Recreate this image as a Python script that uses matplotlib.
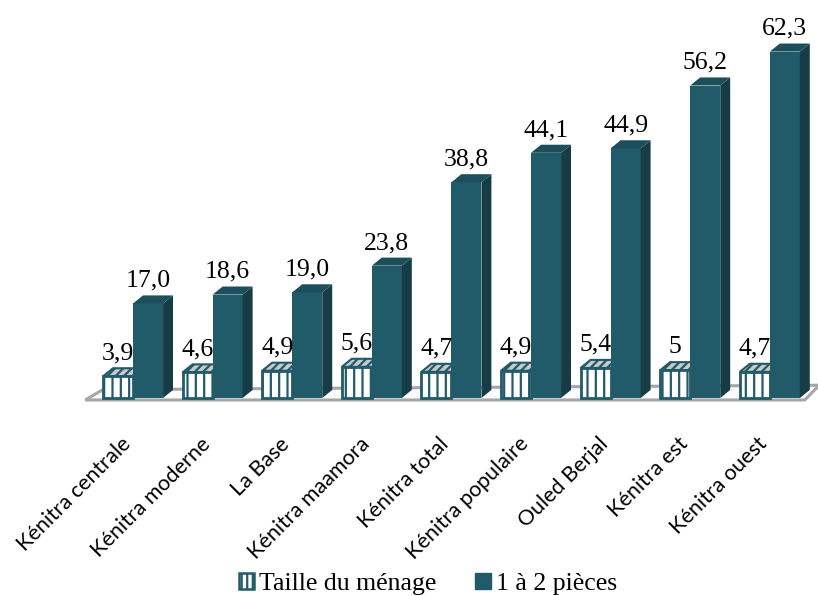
import matplotlib.pyplot as plt
from matplotlib.patches import Polygon, Patch

categories = ['Kénitra centrale', 'Kénitra moderne', 'La Base', 'Kénitra maamora',
              'Kénitra total', 'Kénitra populaire', 'Ouled Berjal', 'Kénitra est',
              'Kénitra ouest']
taille = [3.9, 4.6, 4.9, 5.6, 4.7, 4.9, 5.4, 5, 4.7]
pieces = [17.0, 18.6, 19.0, 23.8, 38.8, 44.1, 44.9, 56.2, 62.3]
series_names = ['Taille du ménage', '1 à 2 pièces']

teal = '#215A69'
teal_side = '#163C45'
teal_top = '#1C4E5B'
bw = 0.377       # bar width (category units)
dx, dy = 0.125, 1.45   # 3d depth offset

plt.rcParams['hatch.linewidth'] = 1.6

fig = plt.figure(figsize=(8.18, 5.96), dpi=100)
ax = fig.add_axes([0.0994, 0.3229, 0.9001, 0.6717])
ax.set_xlim(-0.65, 8.6)
ax.set_ylim(-1, 71)
ax.axis('off')

# floor
n = len(categories)
fl, fr = -0.6, n - 1 + 0.44
floor = Polygon([(fl, -0.36), (fr, -0.36), (fr + 0.18, 2.3), (fl + 0.22, 1.5)],
                closed=True, facecolor='#fbfbfb', edgecolor='#a6a6a6', lw=2.2, zorder=0)
ax.add_patch(floor)

x = list(range(n))

# white striped bars
for i, v in zip(x, taille):
    l = i - bw
    ax.bar(l, v, bw, align='edge', facecolor='white', edgecolor=teal,
           hatch='||', lw=2, zorder=2)
    top = Polygon([(l, v), (l + bw, v), (l + bw + dx, v + dy), (l + dx, v + dy)],
                  closed=True, facecolor='#c9c9c9', edgecolor=teal, hatch='////',
                  lw=1.5, zorder=1.9)
    ax.add_patch(top)
    ax.text(i - bw / 2, v + 3.1, str(v).replace('.', ','), ha='center',
            va='baseline', fontsize=18.5, family='Liberation Serif', zorder=5)

# dark bars
for i, v in zip(x, pieces):
    ax.bar(i, v, bw, align='edge', color=teal, lw=0, zorder=3)
    r = i + bw
    side = Polygon([(r, 0), (r + dx, dy), (r + dx, v + dy), (r, v)],
                   closed=True, facecolor=teal_side, lw=0, zorder=3)
    top = Polygon([(i, v), (r, v), (r + dx, v + dy), (i + dx, v + dy)],
                  closed=True, facecolor=teal_top, lw=0, zorder=3)
    ax.add_patch(side)
    ax.add_patch(top)
    ax.text(i + bw / 2, v + 3.0, f'{v:.1f}'.replace('.', ','), ha='center',
            va='baseline', fontsize=18.5, family='Liberation Serif', zorder=5)

# category labels
for i, c in zip(x, categories):
    ax.text(i - 0.07, -7.7, c, rotation=45, rotation_mode='anchor', ha='right',
            va='center', fontsize=15.5, family='Lato', clip_on=False)

handles = [Patch(facecolor='white', edgecolor=teal, hatch='|||', lw=1.8),
           Patch(facecolor=teal, edgecolor=teal)]
fig.legend(handles, series_names, loc='center', bbox_to_anchor=(0.523, 0.02),
           ncol=2, frameon=False, prop={'family': 'Liberation Serif', 'size': 18.5},
           handlelength=0.6, handleheight=0.6, handletextpad=0.2,
           columnspacing=1.5, borderpad=0, borderaxespad=0)

fig.savefig('out.png', dpi=100)
